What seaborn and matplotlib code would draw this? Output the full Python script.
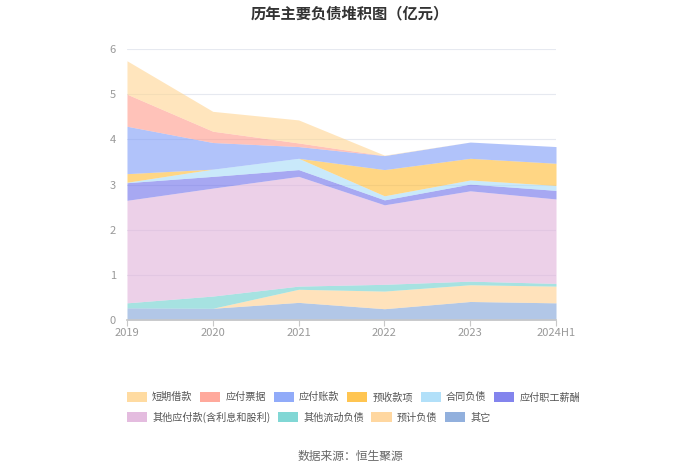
import matplotlib
matplotlib.use("Agg")
import matplotlib.pyplot as plt
from matplotlib.patches import Patch
import seaborn as sns
import numpy as np

years = ["2019", "2020", "2021", "2022", "2023", "2024H1"]

# stacked from the bottom up
qita = [0.27, 0.26, 0.39, 0.25, 0.41, 0.38]            # 其它
yujifuzhai = [0.0, 0.0, 0.29, 0.39, 0.37, 0.37]        # 预计负债
qitaliudong = [0.11, 0.27, 0.07, 0.15, 0.08, 0.06]     # 其他流动负债
qitayingfu = [2.27, 2.39, 2.43, 1.76, 2.00, 1.87]      # 其他应付款(含利息和股利)
zhigongxinchou = [0.39, 0.26, 0.15, 0.11, 0.15, 0.19]  # 应付职工薪酬
hetongfuzhai = [0.01, 0.16, 0.25, 0.09, 0.09, 0.11]    # 合同负债
yushou = [0.19, 0.0, 0.0, 0.58, 0.48, 0.49]            # 预收款项
yingfuzhang = [1.05, 0.59, 0.26, 0.31, 0.36, 0.37]     # 应付账款
yingfupiao = [0.71, 0.25, 0.08, 0.0, 0.0, 0.0]         # 应付票据
duanqi = [0.74, 0.44, 0.51, 0.01, 0.0, 0.0]            # 短期借款

legend_names = ["短期借款", "应付票据", "应付账款", "预收款项", "合同负债", "应付职工薪酬",
                "其他应付款(含利息和股利)", "其他流动负债", "预计负债", "其它"]
colors = ["#FFD591", "#FF9A8B", "#7E9CF8", "#FFBB33", "#A5DBF8", "#6D6FEA",
          "#E0B1DA", "#6BD0CE", "#FFD08F", "#7FA3D8"]

sns.set_theme(style="white")
plt.rcParams["font.family"] = ["Noto Sans CJK SC", "DejaVu Sans"]

fig = plt.figure(figsize=(7, 4.74), dpi=100)
ax = fig.add_axes([0.1814, 0.3249, 0.6129, 0.5717])

x = np.arange(len(years))
stack = [qita, yujifuzhai, qitaliudong, qitayingfu, zhigongxinchou,
         hetongfuzhai, yushou, yingfuzhang, yingfupiao, duanqi]
ax.stackplot(x, *stack, colors=colors[::-1], alpha=0.6, linewidth=0)

ax.set_xlim(0, len(years) - 1)
ax.set_ylim(0, 6)
ax.set_yticks(range(7))
ax.set_xticks(x)
ax.set_xticklabels(years)
ax.yaxis.grid(True, color="#E6E9F0", linewidth=0.8)
ax.xaxis.grid(False)
ax.set_axisbelow(True)
for s in ["top", "right", "left"]:
    ax.spines[s].set_visible(False)
ax.spines["bottom"].set_color("#C8C8C8")
ax.tick_params(axis="x", colors="#C8C8C8", length=4, width=0.8, direction="out",
               labelcolor="#999999", labelsize=8, pad=2, bottom=True)
ax.tick_params(axis="y", length=0, labelcolor="#999999", labelsize=8, pad=8)

# legend in two flowing rows, solid swatches
handles = [Patch(facecolor=c, edgecolor="none", alpha=0.85) for c in colors]
common = dict(frameon=False, fontsize=7.3, handlelength=2.0, handleheight=1.1,
              handletextpad=0.5, columnspacing=0.75, labelcolor="#555555",
              borderaxespad=0, borderpad=0)
fig.legend(handles[:6], legend_names[:6], ncol=6, loc="center left",
           bbox_to_anchor=(0.181, 0.162), **common)
fig.legend(handles[6:], legend_names[6:], ncol=4, loc="center left",
           bbox_to_anchor=(0.181, 0.120), **common)

fig.text(0.5, 0.972, "历年主要负债堆积图（亿元）", ha="center", va="center",
         fontsize=11, fontweight="bold", color="#333333")
fig.text(0.5, 0.036, "数据来源：恒生聚源", ha="center", va="center",
         fontsize=8.5, color="#666666")

fig.savefig("out.png", dpi=100)
